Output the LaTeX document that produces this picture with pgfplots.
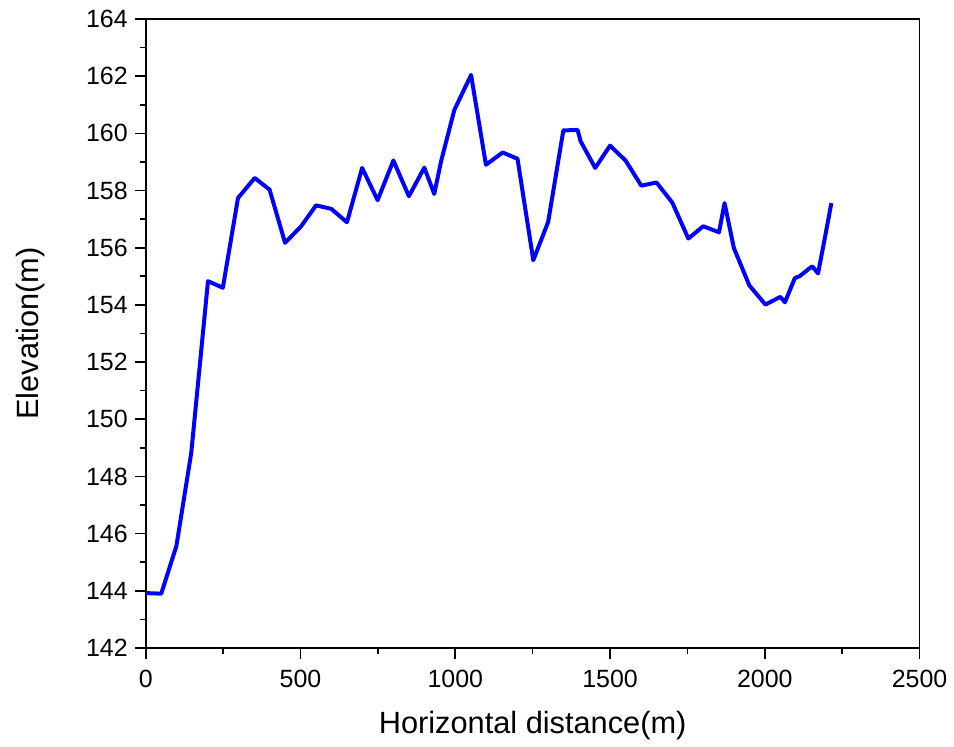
\documentclass[border=0pt]{standalone}
\usepackage{pgfplots}
\pgfplotsset{compat=1.18}
\usepackage{fontspec}
\setmainfont{Liberation Sans}
\begin{document}
\begin{tikzpicture}
\begin{axis}[
  name=ax,
  scale only axis,
  width=387.5pt, height=315pt,
  xmin=0, xmax=2500, ymin=142, ymax=164,
  xtick={0,500,...,2500}, ytick={142,144,...,164},
  minor x tick num=1, minor y tick num=1,
  axis x line*=bottom, axis y line*=left,
  tick align=outside,
  major tick length=5.5pt, minor tick length=3pt,
  every tick/.style={black, line width=0.8pt},
  axis line style={line width=0.8pt},
  ticklabel style={font=\fontsize{12.5}{14}\selectfont},
  xticklabel style={yshift=-2pt},
  /pgf/number format/assume math mode=true,
  /pgf/number format/1000 sep={},
  xlabel={Horizontal distance(m)},
  ylabel={Elevation(m)},
  label style={font=\fontsize{15.4}{18}\selectfont},
  xlabel style={yshift=-5pt},
  ylabel style={yshift=14pt},
  clip=false,
]
\draw[line width=0.8pt] (axis cs:0,164) -- (axis cs:2500,164) -- (axis cs:2500,142);
\addplot[color={rgb,255:red,0;green,0;blue,255}, line width=2pt, line join=round] coordinates {
(0,143.92) (50,143.9) (99,145.57) (147,148.83) (201,154.83) (249,154.6)
(298,157.74) (352,158.44) (400,158.03) (450,156.17) (502,156.75) (550,157.48)
(599,157.36) (650,156.89) (699,158.79) (749,157.66) (800,159.05) (850,157.8)
(900,158.8) (932,157.88) (954,159.02) (997,160.82) (1051,162.04) (1099,158.9)
(1153,159.33) (1201,159.11) (1252,155.56) (1300,156.9) (1349,160.1) (1395,160.12)
(1405,159.72) (1452,158.79) (1500,159.57) (1550,159.05) (1601,158.17) (1650,158.28)
(1701,157.58) (1753,156.32) (1801,156.75) (1852,156.54) (1870,157.56) (1900,155.99)
(1950,154.68) (2002,154.01) (2050,154.28) (2065,154.09) (2097,154.94) (2112,155.0)
(2153,155.35) (2172,155.1) (2196,156.46) (2215,157.56)
};
\end{axis}
\path (ax.south west) ++(-73pt,-49.5pt) coordinate (bbA);
\path (ax.north east) ++(16.5pt,9.5pt) coordinate (bbB);
\path (bbA) rectangle (bbB);
\end{tikzpicture}
\end{document}
